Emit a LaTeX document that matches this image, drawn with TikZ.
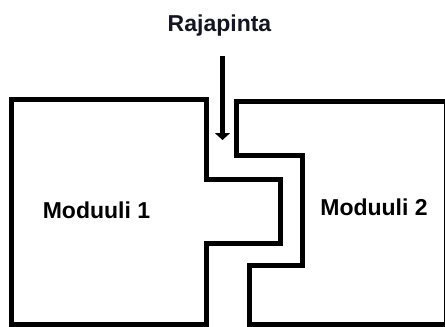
\documentclass[tikz,border=0pt]{standalone}
\usepackage{fontspec}
\setmainfont{Liberation Sans}
\usetikzlibrary{arrows.meta}
\definecolor{labelink}{RGB}{20,20,36}
\tikzset{
  outline/.style={draw=black, line width=5pt, line join=miter, line cap=rect},
  lbl/.style={font=\bfseries\fontsize{23}{23}\selectfont, inner sep=0pt, anchor=base},
  pointer/.style={draw=black, line width=5pt, -{Triangle[width=15pt,length=7pt]}}
}
\begin{document}
\begin{tikzpicture}[x=1pt,y=-1pt]
\useasboundingbox (0,0) rectangle (445,327);
\clip (0,0) rectangle (445,327);
\fill[white] (0,0) rectangle (445,327);
% Module 1
\draw[outline] (11.5,99.5) -- (206.5,99.5) -- (206.5,179.5) -- (280.5,179.5)
  -- (280.5,243) -- (206.5,243) -- (206.5,324.7) -- (11.5,324.7) -- cycle;
% Module 2
\draw[outline] (236.5,101) -- (446.5,101) -- (446.5,324.7) -- (249,324.7)
  -- (249,265.5) -- (302.5,265.5) -- (302.5,155) -- (236.5,155) -- cycle;
% labels
\node[lbl, text=labelink] (raja) at (219.5,31.7) {Rajapinta};
\node[lbl] (m1) at (96.5,218) {Moduuli 1};
\node[lbl] (m2) at (374,215) {Moduuli 2};
% arrow
\coordinate (arrstart) at (222.5,56);
\coordinate (arrend) at (222.5,140);
\draw[pointer] (arrstart) -- (arrend);
\end{tikzpicture}
\end{document}
